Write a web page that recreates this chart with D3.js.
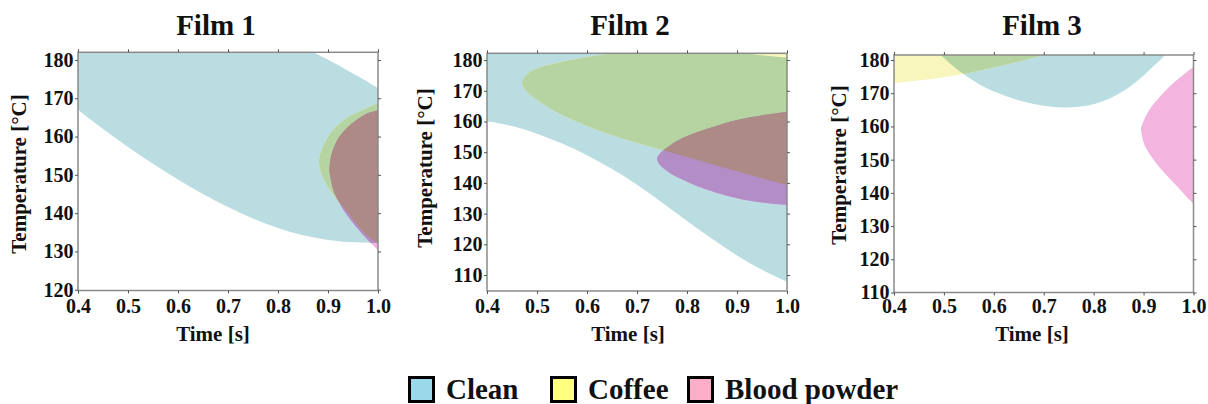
<!DOCTYPE html>
<html><head><meta charset="utf-8">
<script src="https://cdn.jsdelivr.net/npm/d3@7"></script>
<style>
body{margin:0;background:#fff}
text{font-family:"Liberation Serif","Times New Roman",serif;font-weight:bold;fill:#111}
</style>
</head><body>
<svg id="c" width="1208" height="404"></svg>
<script>
// ---------------- DATA ----------------
const timeTicks = [0.4, 0.5, 0.6, 0.7, 0.8, 0.9, 1.0];
const film1TempTicks = [120, 130, 140, 150, 160, 170, 180];
const film2TempTicks = [110, 120, 130, 140, 150, 160, 170, 180];
const film3TempTicks = [110, 120, 130, 140, 150, 160, 170, 180];
const filmTitles = ["Film 1", "Film 2", "Film 3"];
const seriesNames = ["Clean", "Coffee", "Blood powder"];
const xLabel = "Time [s]";
const yLabel = "Temperature [\u00B0C]";

// Region boundaries [time s, temperature °C]; each region is a list of arcs
// (curved runs) joined by straight segments that lie outside the plotted window.
const film1Clean = [
  [[0.84,184],[0.87,182],[0.905,179.7],[0.937,177.4],[0.97,175],[1.0,172.6],[1.02,171]],
  [[1.05,171]], [[1.05,132.2]],
  [[1.02,132.2],[1.0,132.2],[0.95,132.4],[0.9,133.0],[0.85,134.2],[0.8,136.1],[0.75,138.6],[0.7,141.6],[0.65,145.0],[0.6,148.8],[0.55,152.9],[0.5,157.3],[0.45,162.0],[0.4,167.0],[0.38,169.1]],
  [[0.35,169.1]], [[0.35,190]], [[0.84,190]]
];
const film1Coffee = [
  [[1.02,169.5],[1.0,168.7],[0.97,167],[0.937,164.8],[0.91,161.8],[0.895,158.8],[0.885,155.8],[0.882,153.5],[0.886,150.5],[0.897,147.5],[0.915,144],[0.933,141.2],[0.955,137.5],[0.975,134.5],[0.99,132.9],[1.0,132.0],[1.02,130]],
  [[1.05,130]], [[1.05,170]]
];
const film1Blood = [
  [[1.02,168],[1.0,166.95],[0.978,166],[0.957,164.3],[0.938,162.3],[0.923,160],[0.912,157.3],[0.906,154.8],[0.903,151.3],[0.906,148.5],[0.912,145.5],[0.927,141.7],[0.95,137.4],[0.973,133.9],[1.0,130.4],[1.02,128.5]],
  [[1.05,128.5]], [[1.05,168]]
];

const film2Clean = [
  [[0.9,183],[0.92,182.2],[0.96,181.4],[1.0,180.8],[1.03,180.5]],
  [[1.05,180.5]], [[1.05,106.5]],
  [[1.02,106.4],[1.0,107.8],[0.95,111.7],[0.9,116.4],[0.85,121.8],[0.8,127.6],[0.75,133.6],[0.7,139.4],[0.65,144.5],[0.6,149.0],[0.55,152.8],[0.5,156.0],[0.45,158.5],[0.4,160.1],[0.38,160.6]],
  [[0.35,160.6]], [[0.35,190]], [[0.9,190]]
];
const film2Coffee = [
  [[0.7,183],[0.64,182],[0.567,180],[0.52,178.3],[0.5,177.3],[0.48,175.3],[0.47,172.9],[0.475,170.6],[0.485,168.9],[0.5,167.0],[0.533,163.6],[0.567,160.8],[0.6,158.5],[0.65,155.5],[0.7,153.0],[0.75,150.7],[0.8,148.4],[0.85,146.1],[0.9,143.8],[0.95,141.5],[1.0,139.3],[1.02,138.5]],
  [[1.05,138.5]], [[1.05,190]], [[0.7,190]]
];
const film2Blood = [
  [[1.02,163.6],[1.0,163.2],[0.9,160.5],[0.833,157.2],[0.79,154.5],[0.767,152.3],[0.748,150],[0.74,148],[0.745,146],[0.767,143.1],[0.8,140.4],[0.833,138.2],[0.9,135],[0.95,133.6],[1.0,132.8],[1.02,132.6]],
  [[1.05,132.6]], [[1.05,163.6]]
];

const film3Clean = [
  [[0.48,183.5],[0.49,182],[0.515,178.6],[0.54,175.7],[0.57,172.8],[0.607,170.1],[0.64,168.3],[0.673,167.0],[0.707,166.1],[0.74,165.7],[0.775,166.0],[0.807,167.0],[0.84,169.0],[0.873,172.0],[0.9,175.3],[0.92,178.2],[0.94,181.0],[0.95,182.5],[0.96,184]]
];
const film3Coffee = [
  [[0.38,172.7],[0.4,173],[0.45,173.8],[0.5,174.8],[0.55,176.1],[0.6,177.7],[0.65,179.5],[0.7,181.5],[0.72,182.4]],
  [[0.72,190]], [[0.35,190]], [[0.35,172.7]]
];
const film3Blood = [
  [[1.02,180],[1.0,178],[0.975,175],[0.952,172],[0.933,169],[0.916,166],[0.904,163],[0.897,160.5],[0.895,159.5],[0.897,157],[0.903,154],[0.915,151],[0.93,148],[0.948,145],[0.967,142],[0.985,139],[1.0,136.7],[1.02,134]],
  [[1.05,134]], [[1.05,180]]
];

const tempTicks = [film1TempTicks, film2TempTicks, film3TempTicks];
const cleanRegions = [film1Clean, film2Clean, film3Clean];
const coffeeRegions = [film1Coffee, film2Coffee, film3Coffee];
const bloodRegions = [film1Blood, film2Blood, film3Blood];
const tempDomains = [[119.8, 182], [104.8, 182.2], [110, 181.5]];
const timeDomain = [0.4, 1.0];

// ---------------- STYLE / LAYOUT ----------------
const FONT = '"Liberation Serif","Times New Roman",serif';
const col = {
  clean: "#badde2", coffee: "#f8f6bd", blood: "#f4b4e0",
  cleanCoffee: "#b5d4a2", cleanBlood: "#b38dc5", all: "#ad8a85"
};
const legendColors = ["#99d9ea", "#ffff80", "#ffaec9"];
const panels = [
  {x0: 78,  x1: 378,    yb: 290.5, yt: 52.3, titleX: 216,  xlabX: 213,   ylabX: 26,  ylabY: 174, tickPad: 5.3},
  {x0: 487, x1: 787,    yb: 291,   yt: 53.3, titleX: 630,  xlabX: 628,   ylabX: 432, ylabY: 168, tickPad: 4.8},
  {x0: 894, x1: 1193.5, yb: 292.5, yt: 55,   titleX: 1042, xlabX: 1032,  ylabX: 846, ylabY: 165, tickPad: 3.3}
];

const svg = d3.select("#c");
const defs = svg.append("defs");

function regionPath(arcs, xs, ys) {
  const line = d3.line().x(d => xs(d[0])).y(d => ys(d[1])).curve(d3.curveCatmullRom.alpha(0.5));
  return arcs.map((a, i) => {
    const s = a.length === 1 ? `M${xs(a[0][0])},${ys(a[0][1])}` : line(a);
    return i ? "L" + s.slice(1) : s;
  }).join("") + "Z";
}

panels.forEach((p, i) => {
  const xs = d3.scaleLinear().domain(timeDomain).range([p.x0, p.x1]);
  const ys = d3.scaleLinear().domain(tempDomains[i]).range([p.yb, p.yt]);

  const cleanD = regionPath(cleanRegions[i], xs, ys);
  const coffeeD = regionPath(coffeeRegions[i], xs, ys);
  const bloodD = regionPath(bloodRegions[i], xs, ys);

  defs.append("clipPath").attr("id", "plot" + i).append("rect")
    .attr("x", p.x0).attr("y", p.yt).attr("width", p.x1 - p.x0).attr("height", p.yb - p.yt);
  defs.append("clipPath").attr("id", "clean" + i).append("path").attr("d", cleanD);
  defs.append("clipPath").attr("id", "coffee" + i).append("path").attr("d", coffeeD);

  const g = svg.append("g").attr("clip-path", `url(#plot${i})`);
  g.append("path").attr("d", cleanD).attr("fill", col.clean);
  g.append("path").attr("d", coffeeD).attr("fill", col.coffee);
  g.append("path").attr("d", bloodD).attr("fill", col.blood);
  g.append("g").attr("clip-path", `url(#clean${i})`).append("path").attr("d", coffeeD).attr("fill", col.cleanCoffee);
  g.append("g").attr("clip-path", `url(#clean${i})`).append("path").attr("d", bloodD).attr("fill", col.cleanBlood);
  g.append("g").attr("clip-path", `url(#clean${i})`)
    .append("g").attr("clip-path", `url(#coffee${i})`)
    .append("path").attr("d", bloodD).attr("fill", col.all);

  // frame
  svg.append("rect").attr("x", p.x0).attr("y", p.yt)
    .attr("width", p.x1 - p.x0).attr("height", p.yb - p.yt)
    .attr("fill", "none").attr("stroke", "#8a8a8a").attr("stroke-width", 1.5);

  // axes
  const fmt = d3.format(".1f");
  const bottom = svg.append("g").attr("transform", `translate(0,${p.yb})`)
    .call(d3.axisBottom(xs).tickValues(timeTicks).tickFormat(fmt).tickSize(3).tickPadding(p.tickPad));
  const left = svg.append("g").attr("transform", `translate(${p.x0},0)`)
    .call(d3.axisLeft(ys).tickValues(tempTicks[i]).tickFormat(d3.format("d")).tickSize(3).tickPadding(1.5));
  const top = svg.append("g").attr("transform", `translate(0,${p.yt})`)
    .call(d3.axisTop(xs).tickValues(timeTicks).tickFormat("").tickSize(3));
  const right = svg.append("g").attr("transform", `translate(${p.x1},0)`)
    .call(d3.axisRight(ys).tickValues(tempTicks[i]).tickFormat("").tickSize(3));
  [bottom, left, top, right].forEach(a => {
    a.attr("font-family", FONT).attr("font-weight", "bold").attr("font-size", 20);
    a.select(".domain").remove();
    a.selectAll(".tick line").attr("stroke", "#555").attr("stroke-width", 1);
    a.selectAll("text").style("font-family", FONT).style("font-weight", "bold")
      .style("font-size", "20px").attr("fill", "#111");
  });

  // title + labels
  svg.append("text").attr("x", p.titleX).attr("y", 35).attr("text-anchor", "middle")
    .attr("font-size", 29).text(filmTitles[i]);
  svg.append("text").attr("x", p.xlabX).attr("y", 341).attr("text-anchor", "middle")
    .attr("font-size", 21).text(xLabel);
  svg.append("text").attr("transform", `translate(${p.ylabX},${p.ylabY}) rotate(-90)`)
    .attr("text-anchor", "middle").attr("font-size", 21).text(yLabel);
});

// legend
const legendX = [408, 550, 687];
const lg = svg.append("g");
seriesNames.forEach((name, i) => {
  lg.append("rect").attr("x", legendX[i] + 1.5).attr("y", 377.5).attr("width", 24).attr("height", 24)
    .attr("fill", legendColors[i]).attr("stroke", "#000").attr("stroke-width", 3);
  lg.append("text").attr("x", legendX[i] + 38).attr("y", 399).attr("font-size", 29).text(name);
});
</script>
</body></html>
